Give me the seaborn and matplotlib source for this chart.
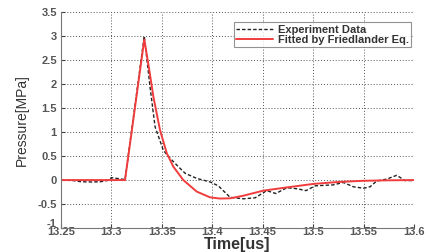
import seaborn as sns
import matplotlib.pyplot as plt
import matplotlib.transforms as mtransforms
import pandas as pd

# experiment data
exp_t = [13.25, 13.262, 13.27, 13.28, 13.289, 13.296, 13.300, 13.307, 13.3135,
         13.3326, 13.3383, 13.3433, 13.3515, 13.3565, 13.3649, 13.3732, 13.3846,
         13.398, 13.406, 13.4177, 13.431, 13.4425, 13.454, 13.463, 13.474,
         13.4838, 13.493, 13.502, 13.52, 13.53, 13.54, 13.55, 13.5565, 13.563,
         13.573, 13.583, 13.591, 13.6]
exp_p = [0.0, -0.01, -0.035, -0.04, -0.035, -0.01, 0.05, 0.03, 0.01,
         3.0, 1.94, 1.11, 0.62, 0.49, 0.31, 0.14, 0.035,
         -0.04, -0.12, -0.36, -0.39, -0.37, -0.22, -0.28, -0.16,
         -0.18, -0.22, -0.12, -0.1, -0.05, -0.14, -0.17, -0.14, -0.02,
         0.02, 0.1, -0.01, -0.01]

# friedlander fit
fit_t = [13.25, 13.3135, 13.3326, 13.3375, 13.3416, 13.3482, 13.3549, 13.3614,
         13.3713, 13.3846, 13.3978, 13.4077, 13.4177, 13.43, 13.4507, 13.475,
         13.5003, 13.525, 13.5499, 13.575, 13.6]
fit_p = [0.0, 0.0, 2.93, 2.3, 1.74, 1.04, 0.56, 0.28,
         0.0, -0.24, -0.36, -0.385, -0.38, -0.33, -0.22, -0.15,
         -0.08, -0.04, -0.015, -0.005, 0.0]

exp_df = pd.DataFrame({'t': exp_t, 'p': exp_p})
fit_df = pd.DataFrame({'t': fit_t, 'p': fit_p})

sns.set_style("ticks")
plt.rcParams['font.family'] = ['Liberation Sans', 'DejaVu Sans']

fig = plt.figure(figsize=(4.25, 2.52), dpi=100)
ax = fig.add_axes([0.1435, 0.095, 0.8305, 0.857])

sns.lineplot(data=exp_df, x='t', y='p', ax=ax, color='#222222', lw=1.0,
             linestyle=(0, (2.5, 1.5)), label='Experiment Data')
sns.lineplot(data=fit_df, x='t', y='p', ax=ax, color='#f03c3c', lw=1.4,
             label='Fitted by Friedlander Eq.')

ax.set_xlim(13.25, 13.6)
ax.set_ylim(-1, 3.5)
ax.set_xticks([13.25, 13.3, 13.35, 13.4, 13.45, 13.5, 13.55, 13.6])
ax.set_xticklabels(['13.25', '13.3', '13.35', '13.4', '13.45', '13.5', '13.55', '13.6'])
ax.set_yticks([-1, -0.5, 0, 0.5, 1, 1.5, 2, 2.5, 3, 3.5])
ax.set_yticklabels(['-1', '-0.5', '0', '0.5', '1', '1.5', '2', '2.5', '3', '3.5'])
ax.tick_params(direction='in', length=3, colors='#444444')
ax.tick_params(axis='x', labelsize=8, pad=-1)
ax.tick_params(axis='y', labelsize=8, pad=3)
for lab in ax.get_xticklabels() + ax.get_yticklabels():
    lab.set_fontweight('bold')
    lab.set_color('#555555')

# "-1" sits a little high in the original, just above "13.25"
low = ax.get_yticklabels()[0]
low.set_transform(low.get_transform() +
                  mtransforms.ScaledTranslation(0, 4 / 72, fig.dpi_scale_trans))

ax.grid(True, color='#555555', linestyle=(0, (1, 2)), linewidth=0.7)
for s in ['top', 'right']:
    ax.spines[s].set_visible(False)
for s in ['left', 'bottom']:
    ax.spines[s].set_color('#777777')
    ax.spines[s].set_linewidth(0.8)

ax.set_xlabel('Time[us]', fontsize=11.5, fontweight='bold', color='#333333', labelpad=0)
ax.set_ylabel('Pressure[MPa]', fontsize=10, color='#333333', labelpad=6)

leg = ax.legend(loc='upper right', bbox_to_anchor=(0.993, 0.952), fontsize=8,
                frameon=True, fancybox=False, handlelength=3.3, borderpad=0.2,
                labelspacing=0.05, handletextpad=0.5, borderaxespad=0)
leg.get_frame().set_edgecolor('#777777')
leg.get_frame().set_linewidth(0.8)
for t in leg.get_texts():
    t.set_fontweight('bold')
    t.set_color('#333333')

fig.savefig('out.png', dpi=100)
